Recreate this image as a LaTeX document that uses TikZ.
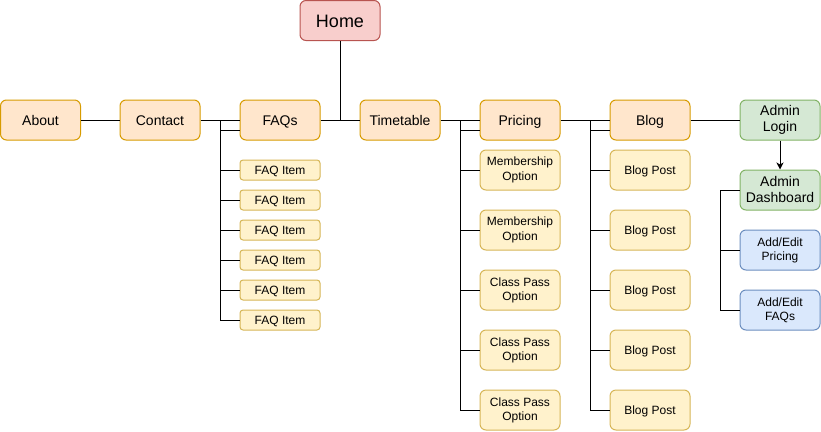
\documentclass[tikz,border=0pt]{standalone}
\usepackage{fontspec}
\setmainfont{Liberation Sans}
\usetikzlibrary{arrows.meta}
\definecolor{homefill}{HTML}{F8CECC}
\definecolor{homedraw}{HTML}{B85450}
\definecolor{lvfill}{HTML}{FFE6CC}
\definecolor{lvdraw}{HTML}{D79B00}
\definecolor{itfill}{HTML}{FFF2CC}
\definecolor{itdraw}{HTML}{D6B656}
\definecolor{grfill}{HTML}{D5E8D4}
\definecolor{grdraw}{HTML}{82B366}
\definecolor{blfill}{HTML}{DAE8FC}
\definecolor{bldraw}{HTML}{6C8EBF}
\newcommand\zs{\rule[-0.14em]{0pt}{1.1em}}
\begin{document}
\begin{tikzpicture}[x=1pt,y=-1pt,
  base/.style={draw, rounded corners=6pt, minimum width=80pt, minimum height=40pt,
    inner sep=0pt, align=center, line width=1pt, text=black,
    execute at begin node=\zs},
  homebox/.style={base, fill=homefill, draw=homedraw, font=\fontsize{18}{20}\selectfont},
  lvbox/.style={base, fill=lvfill, draw=lvdraw, font=\fontsize{14}{16}\selectfont},
  itbox/.style={base, fill=itfill, draw=itdraw, font=\fontsize{12}{14}\selectfont},
  smallbox/.style={itbox, minimum height=20pt, rounded corners=3pt},
  grbox/.style={base, fill=grfill, draw=grdraw, font=\fontsize{14}{16}\selectfont},
  blbox/.style={base, fill=blfill, draw=bldraw, font=\fontsize{12}{14}\selectfont},
  edge/.style={draw=black, line width=1pt},
  arr/.style={edge, -{Stealth[length=7pt,width=7pt,inset=2pt]}}
]
\useasboundingbox (0,0) rectangle (821,431);

\node[homebox] (home) at (340,20.5) {Home};

\node[lvbox] (about) at (40.5,120) {About};
\node[lvbox] (contact) at (160,120) {Contact};
\node[lvbox] (faqs) at (280,120) {FAQs};
\node[lvbox] (timetable) at (400,120) {Timetable};
\node[lvbox] (pricing) at (520,120) {Pricing};
\node[lvbox] (blog) at (650,120) {Blog};
\node[grbox] (login) at (780,120) {Admin\\\zs Login};

\foreach \k in {1,...,6} {
  \node[smallbox] (faq\k) at (280,140+30*\k) {FAQ Item};
}
\node[itbox] (pr1) at (520,170) {Membership\\\zs Option};
\node[itbox] (pr2) at (520,230) {Membership\\\zs Option};
\node[itbox] (pr3) at (520,290) {Class Pass\\\zs Option};
\node[itbox] (pr4) at (520,350) {Class Pass\\\zs Option};
\node[itbox] (pr5) at (520,410) {Class Pass\\\zs Option};
\foreach \k in {1,...,5} {
  \node[itbox] (bp\k) at (650,110+60*\k) {Blog Post};
}
\node[grbox] (dash) at (780,190) {Admin\\\zs Dashboard};
\node[blbox] (addp) at (780,250) {Add/Edit\\\zs Pricing};
\node[blbox] (addf) at (780,310) {Add/Edit\\\zs FAQs};

% main row
\draw[edge] (about) -- (contact);
\draw[edge] (contact) -- (faqs);
\draw[edge] (faqs) -- (timetable);
\draw[edge] (home.south) -- (home.south |- faqs.east);
\draw[edge] (timetable) -- (pricing);
\draw[edge] (pricing) -- (blog);
\draw[edge] (blog) -- (login);
\draw[arr] (login) -- (dash);

% FAQ fork
\coordinate (faqbus) at (220,120);
\draw[edge] ([yshift=-10pt]faqs.west) -- ++(-20,0);
\foreach \k in {1,...,6} { \draw[edge] (faqbus) |- (faq\k.west); }

% Pricing fork
\coordinate (prbus) at (460,120);
\draw[edge] ([yshift=-10pt]pricing.west) -- ++(-20,0);
\foreach \k in {1,...,5} { \draw[edge] (prbus) |- (pr\k.west); }

% Blog fork
\coordinate (bpbus) at (590,120);
\draw[edge] ([yshift=-10pt]blog.west) -- ++(-20,0);
\foreach \k in {1,...,5} { \draw[edge] (bpbus) |- (bp\k.west); }

% Admin fork
\coordinate (adbus) at (720,190);
\draw[edge] (dash.west) -- (adbus);
\draw[edge] (adbus) |- (addp.west);
\draw[edge] (adbus) |- (addf.west);
\end{tikzpicture}
\end{document}
